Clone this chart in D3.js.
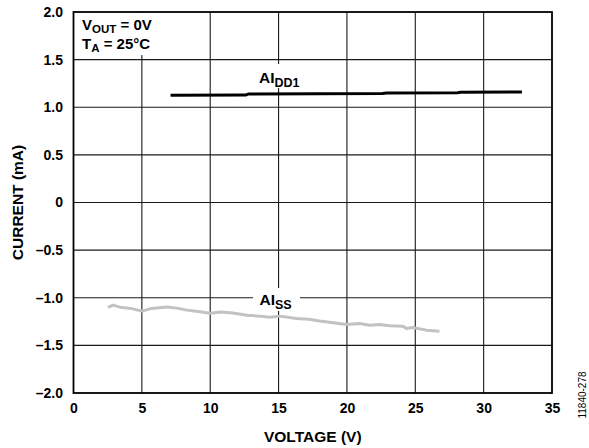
<!DOCTYPE html>
<html>
<head>
<meta charset="utf-8">
<script src="https://cdn.jsdelivr.net/npm/d3@7"></script>
<style>
  body { margin: 0; background: #fff; }
  text { font-family: "Liberation Sans", Arial, sans-serif; font-weight: bold; fill: #000; }
</style>
</head>
<body>
<script>
// AI_DD1 readings (V, mA)
const voltageDD = [7.1, 12.6, 12.8, 22.6, 22.9, 28.1, 28.3, 32.8];
const currentDD = [1.125, 1.128, 1.140, 1.144, 1.150, 1.152, 1.158, 1.160];

// AI_SS readings (V, mA)
const voltageSS = [2.52, 2.89, 3.40, 4.2, 4.7, 5.08, 5.7, 6.3, 6.83, 7.56, 8.3, 9.24, 9.97, 10.8, 11.65, 12.68,
  13.62, 14.35, 15.08, 16.32, 17.2, 18.0, 19.0, 19.98, 20.93, 21.66, 22.4, 23.12, 24.07, 24.36, 24.80, 25.82, 26.77];
const currentSS = [-1.102, -1.078, -1.099, -1.112, -1.130, -1.138, -1.112, -1.104, -1.096, -1.109, -1.130, -1.148,
  -1.162, -1.150, -1.159, -1.183, -1.193, -1.205, -1.193, -1.217, -1.225, -1.243, -1.262, -1.280, -1.270, -1.288,
  -1.280, -1.295, -1.298, -1.322, -1.312, -1.340, -1.351];

const xTicks = [0, 5, 10, 15, 20, 25, 30, 35];
const yTicks = [-2, -1.5, -1, -0.5, 0, 0.5, 1, 1.5, 2];

const width = 589;
const height = 448;
const margin = {top: 12, right: 37, bottom: 55, left: 73.5};

const svg = d3.select('body')
  .append('svg')
  .attr('width', width)
  .attr('height', height);

const x = d3.scaleLinear().domain([0, 35]).range([margin.left, width - margin.right]);
const y = d3.scaleLinear().domain([-2, 2]).range([height - margin.bottom, margin.top]);

const fmtY = (d) => d === 0 ? '0' : (d < 0 ? '\u2013' : '') + Math.abs(d).toFixed(1);

// grid
svg.append('g')
  .selectAll('line')
  .data(xTicks.slice(1, -1))
  .join('line')
  .attr('x1', (d) => x(d)).attr('x2', (d) => x(d))
  .attr('y1', y(2)).attr('y2', y(-2))
  .attr('stroke', '#1a1a1a').attr('stroke-width', 1.1);

svg.append('g')
  .selectAll('line')
  .data(yTicks.slice(1, -1))
  .join('line')
  .attr('x1', x(0)).attr('x2', x(35))
  .attr('y1', (d) => y(d)).attr('y2', (d) => y(d))
  .attr('stroke', '#1a1a1a').attr('stroke-width', 1.1);

// white patches behind the labels
svg.append('rect').attr('x', x(0) + 1).attr('y', y(2) + 1).attr('width', 88).attr('height', 42).attr('fill', '#fff');
svg.append('rect').attr('x', 253).attr('y', 64).attr('width', 52).attr('height', 24).attr('fill', '#fff');
svg.append('rect').attr('x', 253).attr('y', 288).attr('width', 47).attr('height', 23).attr('fill', '#fff');

// frame
svg.append('rect')
  .attr('x', x(0)).attr('y', y(2))
  .attr('width', x(35) - x(0)).attr('height', y(-2) - y(2))
  .attr('fill', 'none').attr('stroke', '#000').attr('stroke-width', 1.8);

// tick labels
const xAxis = d3.axisBottom(x).tickValues(xTicks).tickSize(0).tickPadding(10).tickFormat(d3.format('d'));
svg.append('g')
  .attr('transform', `translate(0,${y(-2)})`)
  .call(xAxis)
  .call((g) => g.select('.domain').remove())
  .selectAll('text')
  .style('font-size', '14px').style('font-family', '"Liberation Sans", Arial, sans-serif').style('font-weight', 'bold');

const yAxis = d3.axisLeft(y).tickValues(yTicks).tickSize(0).tickPadding(10.5).tickFormat(fmtY);
svg.append('g')
  .attr('transform', `translate(${x(0)},0)`)
  .call(yAxis)
  .call((g) => g.select('.domain').remove())
  .selectAll('text')
  .style('font-size', '14px').style('font-family', '"Liberation Sans", Arial, sans-serif').style('font-weight', 'bold');

// data lines
const line = d3.line().x((d) => x(d[0])).y((d) => y(d[1]));

svg.append('path')
  .datum(d3.zip(voltageSS, currentSS))
  .attr('d', line)
  .attr('fill', 'none').attr('stroke', '#c2c2c2').attr('stroke-width', 3).attr('stroke-linejoin', 'round');

svg.append('path')
  .datum(d3.zip(voltageDD, currentDD))
  .attr('d', line)
  .attr('fill', 'none').attr('stroke', '#000').attr('stroke-width', 3);

// labels with subscripts
function subLabel(px, py, main, sub, rest, size, subSize, shift) {
  const t = svg.append('text').attr('x', px).attr('y', py).style('font-size', size + 'px');
  t.append('tspan').text(main);
  t.append('tspan').attr('dy', shift).style('font-size', subSize + 'px').text(sub);
  if (rest) t.append('tspan').attr('dy', -shift).text(rest);
  return t;
}

subLabel(82, 29.5, 'V', 'OUT', ' = 0V', 15, 11.5, 3);
subLabel(82, 48.5, 'T', 'A', ' = 25°C', 15, 11.5, 3);
subLabel(259, 82.5, 'AI', 'DD1', null, 15.5, 12.5, 4);
subLabel(259.5, 305, 'AI', 'SS', null, 15.5, 12.5, 4);

// axis titles
svg.append('text')
  .attr('x', (x(0) + x(35)) / 2).attr('y', 441.5)
  .attr('text-anchor', 'middle').style('font-size', '15.5px')
  .text('VOLTAGE (V)');

svg.append('text')
  .attr('transform', `translate(23,${(y(2) + y(-2)) / 2}) rotate(-90)`)
  .attr('text-anchor', 'middle').style('font-size', '15.5px')
  .text('CURRENT (mA)');

svg.append('text')
  .attr('transform', `translate(586,395) rotate(-90)`)
  .attr('text-anchor', 'middle').style('font-size', '10px').style('font-weight', 'normal')
  .text('11840-278');
</script>
</body>
</html>
